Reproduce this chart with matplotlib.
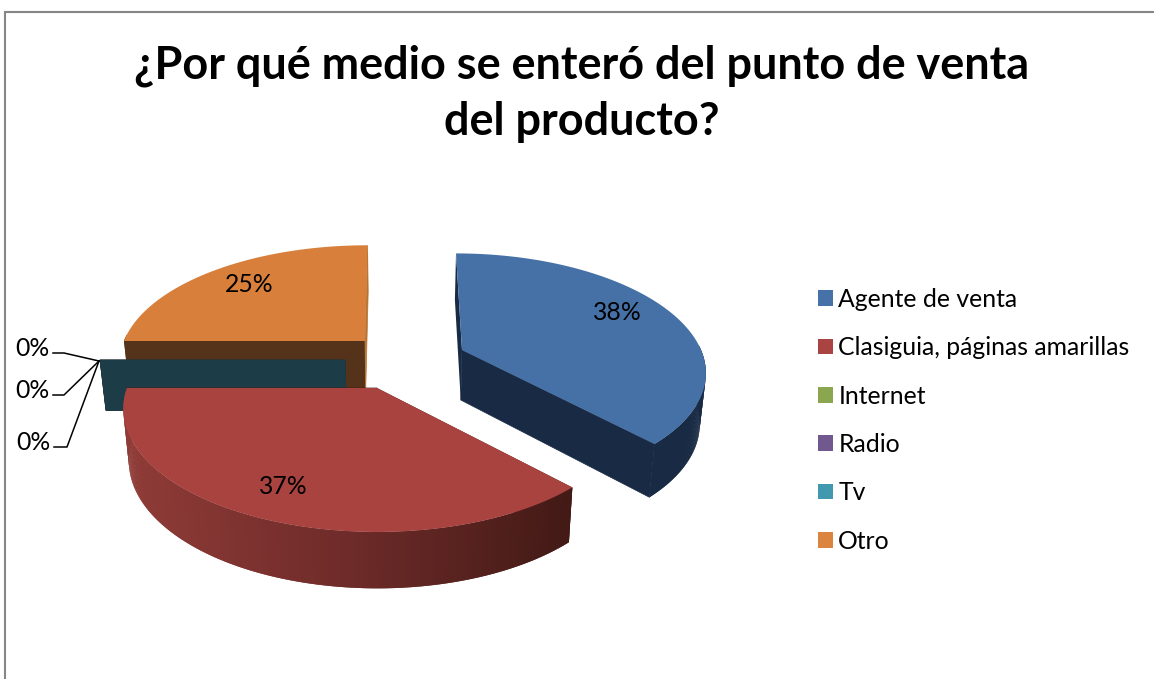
import numpy as np
import matplotlib
matplotlib.use("Agg")
import matplotlib.pyplot as plt
from matplotlib.colors import LinearSegmentedColormap
from matplotlib.patches import Patch, Polygon, Rectangle

TITLE = "¿Por qué medio se enteró del punto de venta\ndel producto?"
categories = ["Agente de venta", "Clasiguia, páginas amarillas", "Internet", "Radio", "Tv", "Otro"]
shares = [38, 37, 0, 0, 0, 25]

legend_colors = ["#4672a8", "#a94442", "#8aa64e", "#71588f", "#4198af", "#db843d"]
top_colors = ["#4571a6", "#a84340", "#8aa64e", "#71588f", "#4198af", "#d8803b"]
start_wall_colors = ["#192b44", "#431a16", "#36431c", "#2a2038", "#1c3c47", "#55321a"]
end_wall_colors = ["#192b44", "#431a16", "#36431c", "#2a2038", "#1c3c47", "#b87330"]
rim_ramps = [
    ["#192b44", "#192b44"],
    ["#431a16", "#6e2b29", "#8f3b37"],
    ["#36431c", "#36431c"],
    ["#2a2038", "#2a2038"],
    ["#1c3c47", "#1c3c47"],
    ["#55321a", "#55321a"],
]

# Each slice has its own exploded centre, radii and back-edge lean (pixels)
centers = [(462, 350), (377, 388), (345, 360), (345, 360), (345, 360), (365, 341)]
radii_x = [239, 250, 245, 245, 245, 241]
radii_y = [113, 119.5, 112, 112, 112, 112]
leans = [7, 0, 0, 0, 0, -3]
draw_order = [5, 2, 3, 4, 1, 0]

PERSPECTIVE = 0.17
VANISH_X = 400
DEPTH_SHRINK = 0.98

value_label_pos = {0: (617, 313), 1: (283, 486), 5: (249, 285)}
zero_label_pos = [(32, 348), (32, 390), (33, 442)]
leader_elbows = [((53, 353), (64, 353)), ((53, 395), (64, 395)), ((54, 447), (67, 447))]
leader_tip = (99, 361)


def top_point(i, theta):
    # theta runs clockwise from twelve o'clock, nearer points spread out
    u, v = np.sin(theta), -np.cos(theta)
    scale = 1 / (1 - PERSPECTIVE * v)
    cx, cy = centers[i]
    return np.column_stack([cx + (radii_x[i] * u + leans[i] * v) * scale, cy + radii_y[i] * v * scale])


def drop(points):
    # Same outline on the underside of the pie
    x, y = points[:, 0], points[:, 1]
    return np.column_stack([VANISH_X + (x - VANISH_X) * DEPTH_SHRINK, y + 50 + 0.035 * (y - 350)])


def draw_slice(ax, i, t0, t1):
    arc_angles = np.linspace(t0, t1, max(int(np.degrees(t1 - t0)) * 2, 1) + 1)
    arc = top_point(i, arc_angles)
    center = np.array([centers[i]], dtype=float)
    under_arc, under_center = drop(arc), drop(center)

    start_wall = [center[0], arc[0], under_arc[0], under_center[0]]
    end_wall = [center[0], arc[-1], under_arc[-1], under_center[0]]
    ax.add_patch(Polygon(start_wall, closed=True, facecolor=start_wall_colors[i], edgecolor="none"))
    ax.add_patch(Polygon(end_wall, closed=True, facecolor=end_wall_colors[i],
                         edgecolor=end_wall_colors[i], linewidth=0.5))

    # Rim quads overlap the next one so no seams show, back half stays hidden
    ramp = LinearSegmentedColormap.from_list("rim", rim_ramps[i])
    order = range(len(arc) - 2, -1, -1) if i == 1 else range(len(arc) - 1)
    for k in order:
        if -np.cos(arc_angles[k]) < -0.05:
            continue
        k2 = min(k + 2, len(arc) - 1) if i != 1 else k + 1
        k1 = max(k - 1, 0) if i == 1 else k
        quad = [arc[k1], arc[k2], under_arc[k2], under_arc[k1]]
        shade = ramp(np.clip((570 - arc[k][0]) / 440, 0, 1))
        ax.add_patch(Polygon(quad, closed=True, facecolor=shade, edgecolor="none"))

    if t1 > t0:
        top = np.vstack([center, arc])
        ax.add_patch(Polygon(top, closed=True, facecolor=top_colors[i], edgecolor="none"))


plt.rcParams["font.family"] = ["Lato", "DejaVu Sans"]

fig = plt.figure(figsize=(11.54, 6.79), dpi=100)
ax = fig.add_axes([0, 0, 1, 1])
ax.set_xlim(0, 1154)
ax.set_ylim(679, 0)
ax.axis("off")

ax.add_patch(Rectangle((5, 12), 1300, 800, facecolor="white", edgecolor="#868686", linewidth=1.5))

ax.text(582, 94, TITLE, ha="center", va="center", fontsize=32.4, fontweight="bold",
        color="black", linespacing=1.42)

bounds = 2 * np.pi * np.cumsum([0] + shares) / sum(shares)
for i in draw_order:
    draw_slice(ax, i, bounds[i], bounds[i + 1])

zero_idx = 0
for i, share in enumerate(shares):
    if share > 0:
        x, y = value_label_pos[i]
    else:
        x, y = zero_label_pos[zero_idx]
        elbow = leader_elbows[zero_idx]
        ax.plot([elbow[0][0], elbow[1][0], leader_tip[0]], [elbow[0][1], elbow[1][1], leader_tip[1]],
                color="black", linewidth=1.1)
        zero_idx += 1
    ax.text(x, y, f"{share}%", ha="center", va="center", fontsize=17.8, color="black")

handles = [Patch(facecolor=c, edgecolor="none") for c in legend_colors]
ax.legend(handles, categories, loc="upper left", bbox_to_anchor=(809, 279),
          bbox_transform=ax.transData, frameon=False, fontsize=17.8,
          handlelength=0.607, handleheight=0.607, handletextpad=0.22,
          labelspacing=1.025, borderpad=0.36, borderaxespad=0)

plt.savefig("out.png", dpi=100)
plt.close()
